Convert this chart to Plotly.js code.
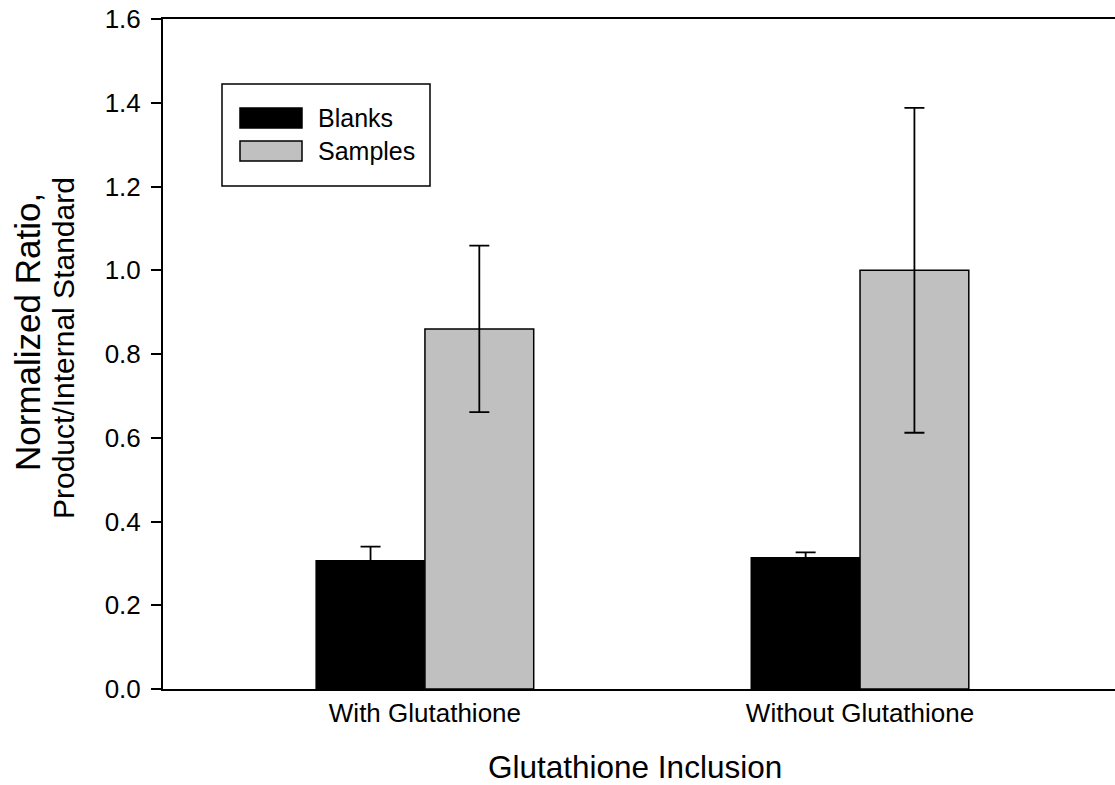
<!DOCTYPE html>
<html>
<head>
<meta charset="utf-8">
<script src="https://cdn.plot.ly/plotly-3.0.1.min.js"></script>
<style>html,body{margin:0;padding:0;background:#fff;}#chart{width:1115px;height:785px;}</style>
</head>
<body>
<div id="chart"></div>
<script>
// ---- data ----
var categories = ["With Glutathione", "Without Glutathione"];
var blanks = [0.306, 0.3135];
var blanksErr = [0.034, 0.013];
var samples = [0.860, 1.000];
var samplesErr = [0.199, 0.388];
var seriesNames = ["Blanks", "Samples"];
var yTitleLines = ["Normalized Ratio,", "Product/Internal Standard"];
var xTitle = "Glutathione Inclusion";

// ---- layout helpers (pixel -> paper) ----
var L = 163, R = 0, T = 19, B = 96, W = 1115, H = 785;
var PW = W - L - R, PH = H - T - B;
function X(px) { return (px - L) / PW; }
function Y(py) { return (H - B - py) / PH; }

var FONT = "Liberation Sans, Arial, Helvetica, sans-serif";

var traces = [
  {
    type: "bar", name: seriesNames[0], x: categories, y: blanks,
    marker: { color: "#000000", line: { color: "#000000", width: 1.5 } },
    error_y: { type: "data", array: blanksErr, visible: true, color: "#000000", thickness: 1.8, width: 10 }
  },
  {
    type: "bar", name: seriesNames[1], x: categories, y: samples,
    marker: { color: "#c0c0c0", line: { color: "#000000", width: 1.5 } },
    error_y: { type: "data", array: samplesErr, visible: true, color: "#000000", thickness: 1.8, width: 10 }
  }
];

var layout = {
  width: W, height: H,
  margin: { l: L, r: R, t: T, b: B, pad: 0 },
  paper_bgcolor: "#ffffff", plot_bgcolor: "#ffffff",
  font: { family: FONT, color: "#000000", size: 26 },
  showlegend: false,
  barmode: "group", bargap: 0.5, bargroupgap: 0,
  xaxis: {
    type: "category", range: [-0.602, 1.586],
    showline: true, linecolor: "#000000", linewidth: 2, mirror: true,
    ticks: "", showgrid: false, zeroline: false,
    tickfont: { family: FONT, size: 26, color: "#000000" }
  },
  yaxis: {
    range: [0, 1.6], dtick: 0.2, tick0: 0, tickformat: ".1f",
    ticks: "outside", ticklen: 10, tickwidth: 2, tickcolor: "#000000",
    ticklabelstandoff: 5,
    showline: true, linecolor: "#000000", linewidth: 2,
    showgrid: false, zeroline: false,
    tickfont: { family: FONT, size: 26, color: "#000000" }
  },
  shapes: [
    { type: "rect", xref: "paper", yref: "paper", x0: X(222), x1: X(430), y0: Y(186), y1: Y(84),
      line: { color: "#000000", width: 1.5 }, fillcolor: "rgba(255,255,255,1)", layer: "above" },
    { type: "rect", xref: "paper", yref: "paper", x0: X(240), x1: X(302), y0: Y(128), y1: Y(108),
      line: { color: "#000000", width: 1.5 }, fillcolor: "#000000", layer: "above" },
    { type: "rect", xref: "paper", yref: "paper", x0: X(240), x1: X(302), y0: Y(161), y1: Y(141),
      line: { color: "#000000", width: 1.5 }, fillcolor: "#c0c0c0", layer: "above" }
  ],
  annotations: [
    { xref: "paper", yref: "paper", x: X(316), y: Y(118), xanchor: "left", yanchor: "middle",
      text: seriesNames[0], showarrow: false, font: { family: FONT, size: 25, color: "#000000" } },
    { xref: "paper", yref: "paper", x: X(316), y: Y(151), xanchor: "left", yanchor: "middle",
      text: seriesNames[1], showarrow: false, font: { family: FONT, size: 25, color: "#000000" } },
    { xref: "paper", yref: "paper", x: X(635), y: Y(767), xanchor: "center", yanchor: "middle",
      text: xTitle, showarrow: false, font: { family: FONT, size: 31.5, color: "#000000" } },
    { xref: "paper", yref: "paper", x: X(27), y: Y(332), xanchor: "center", yanchor: "middle",
      text: yTitleLines[0], textangle: -90, showarrow: false, font: { family: FONT, size: 35, color: "#000000" } },
    { xref: "paper", yref: "paper", x: X(63), y: Y(348), xanchor: "center", yanchor: "middle",
      text: yTitleLines[1], textangle: -90, showarrow: false, font: { family: FONT, size: 30, color: "#000000" } }
  ]
};

Plotly.newPlot("chart", traces, layout, { staticPlot: true, displayModeBar: false });
</script>
</body>
</html>
